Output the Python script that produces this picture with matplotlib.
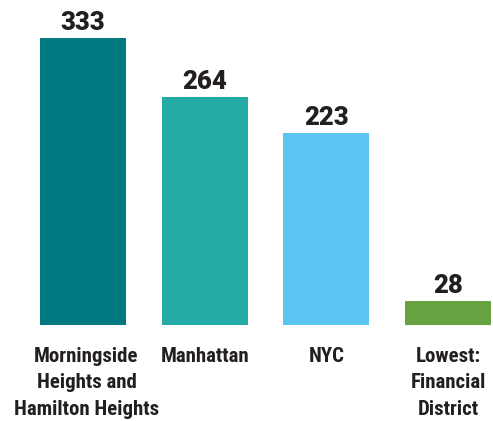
import matplotlib
matplotlib.use("Agg")
import matplotlib.pyplot as plt

categories = ["Morningside\nHeights and\nHamilton Heights", "Manhattan", "NYC", "Lowest:\nFinancial\nDistrict"]
values = [333, 264, 223, 28]
colors = ["#007a80", "#24aba5", "#5bc4f1", "#67a341"]

num_fonts = ["Roboto", "DejaVu Sans"]
label_fonts = ["Roboto Condensed", "Archivo Narrow", "PT Sans Narrow", "DejaVu Sans"]

fig = plt.figure(figsize=(4.93, 4.21), dpi=100)
ax = fig.add_axes([0, 96/421, 1, 325/421])
x = list(range(len(values)))
ax.bar(x, values, width=0.707, color=colors)
ax.set_xlim(-0.682, 3.369)
ax.set_ylim(0, 377)
ax.axis("off")

for xi, v in zip(x, values):
    ax.annotate(str(v), xy=(xi, v), xytext=(0, 5.8), textcoords="offset points",
                ha="center", va="baseline", fontsize=18.5, fontweight="heavy",
                color="#231f20", family=num_fonts, annotation_clip=False)

for i, (xi, c) in enumerate(zip(x, categories)):
    dx = 2.5 if i == 0 else 0
    ax.annotate(c, xy=(xi, 0), xytext=(dx, -15.5), textcoords="offset points",
                ha="center", va="top", multialignment="center", fontsize=15,
                fontweight="semibold", color="#231f20", family=label_fonts,
                linespacing=1.52, annotation_clip=False)

fig.savefig("out.png", dpi=100)
